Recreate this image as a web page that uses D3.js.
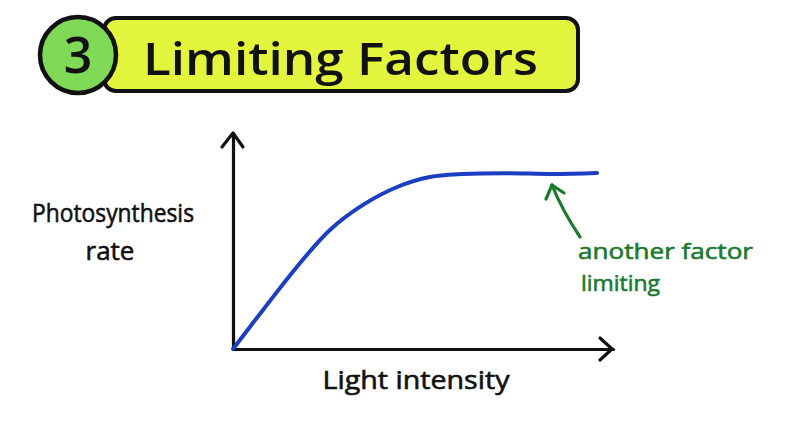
<!DOCTYPE html>
<html><head><meta charset="utf-8">
<script src="https://cdn.jsdelivr.net/npm/d3@7"></script>
<style>body{margin:0;background:#fff}svg{display:block}</style>
</head><body>
<svg id="c" width="800" height="421"></svg>
<script>
const titleNumber = "3";
const titleText = "Limiting Factors";
const yLabel = ["Photosynthesis", "rate"];
const xLabel = "Light intensity";
const noteLines = ["another factor", "limiting"];
const lightIntensity = [0, 7.9, 16.8, 25.5, 34.2, 43.2, 51.8, 60.5, 72, 84.2, 95.8];
const photoRate      = [0, 18.1, 38, 55.1, 66.7, 75, 79.6, 81, 81.4, 81, 81.5];

const svg = d3.select("#c");
const font = "'Open Sans', Lato, sans-serif";
const x = d3.scaleLinear().domain([0, 100]).range([233, 613]);
const y = d3.scaleLinear().domain([0, 100]).range([349, 133]);

// title banner
svg.append("rect").attr("x", 104).attr("y", 18).attr("width", 474).attr("height", 73)
  .attr("rx", 12).attr("fill", "#e3f53c").attr("stroke", "#111").attr("stroke-width", 4);
svg.append("circle").attr("cx", 78).attr("cy", 55).attr("r", 38)
  .attr("fill", "#7fd957").attr("stroke", "#111").attr("stroke-width", 4.5);
svg.append("text").attr("x", 78).attr("y", 73).attr("text-anchor", "middle")
  .attr("font-family", font).attr("font-weight", 600).attr("font-size", 50).attr("fill", "#111").text(titleNumber);
svg.append("text").attr("x", 143).attr("y", 75)
  .attr("font-family", font).attr("font-weight", 600).attr("font-size", 46).attr("fill", "#111")
  .attr("textLength", 395).attr("lengthAdjust", "spacingAndGlyphs").text(titleText);

// axes
const xAxis = d3.axisBottom(x).ticks(0).tickSizeOuter(0);
const yAxis = d3.axisLeft(y).ticks(0).tickSizeOuter(0);
const gx = svg.append("g").attr("transform", `translate(0,${y(0)})`).call(xAxis);
const gy = svg.append("g").attr("transform", `translate(${x(0)},0)`).call(yAxis);
[gx, gy].forEach(g => g.select(".domain").attr("stroke", "#111").attr("stroke-width", 3.2).attr("stroke-linecap", "round"));
const ah = svg.append("g").attr("fill", "none").attr("stroke", "#111").attr("stroke-width", 3.2)
  .attr("stroke-linecap", "round").attr("stroke-linejoin", "round");
ah.append("path").attr("d", `M${x(0)-11},${y(100)+14} L${x(0)},${y(100)} L${x(0)+10},${y(100)+14}`);
ah.append("path").attr("d", `M${x(100)-13},${y(0)-11} L${x(100)-1},${y(0)} L${x(100)-13},${y(0)+11}`);

// curve
const line = d3.line().x((d, i) => x(lightIntensity[i])).y(d => y(d)).curve(d3.curveCatmullRom.alpha(0.5));
svg.append("path").datum(photoRate).attr("d", line).attr("fill", "none")
  .attr("stroke", "#1a3fc0").attr("stroke-width", 4).attr("stroke-linecap", "round");

// labels
const yl = svg.append("text").attr("font-family", font).attr("font-size", 26).attr("fill", "#111")
  .attr("stroke", "#111").attr("stroke-width", 0.6).attr("text-anchor", "middle");
yl.append("tspan").attr("x", 113).attr("y", 222).attr("textLength", 162).attr("lengthAdjust", "spacingAndGlyphs").text(yLabel[0]);
yl.append("tspan").attr("x", 110).attr("y", 260).text(yLabel[1]);
svg.append("text").attr("x", 416).attr("y", 389).attr("text-anchor", "middle")
  .attr("font-family", font).attr("font-size", 26).attr("fill", "#111")
  .attr("stroke", "#111").attr("stroke-width", 0.6)
  .attr("textLength", 187).attr("lengthAdjust", "spacingAndGlyphs").text(xLabel);

// annotation
const green = "#1b7a2e";
const an = svg.append("g").attr("fill", "none").attr("stroke", green).attr("stroke-width", 3.2)
  .attr("stroke-linecap", "round").attr("stroke-linejoin", "round");
an.append("path").attr("d", "M580,237 Q562,210 552,185");
an.append("path").attr("d", "M546,199 L552,185 L564,193");
const noteY = [259, 291], noteX = [578, 581], noteW = [175, 79];
noteLines.forEach((t, i) => {
  svg.append("text").attr("x", noteX[i]).attr("y", noteY[i])
    .attr("font-family", font).attr("font-size", 22).attr("fill", green)
    .attr("stroke", green).attr("stroke-width", 0.6)
    .attr("textLength", noteW[i]).attr("lengthAdjust", "spacingAndGlyphs").text(t);
});
</script>
</body></html>
